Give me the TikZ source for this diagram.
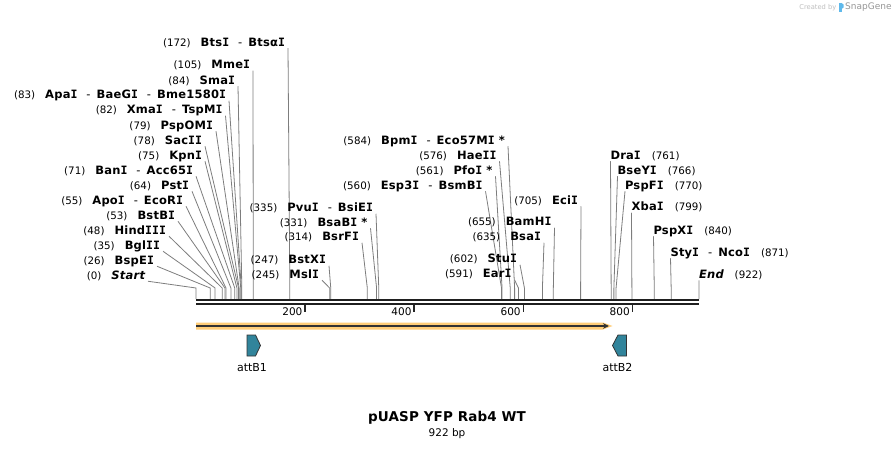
\documentclass[tikz,border=0pt]{standalone}
\usepackage{fontspec}
\usetikzlibrary{arrows.meta}
\setmainfont{DejaVu Sans}
\newfontfamily\enzfont{DejaVu Sans}[LetterSpace=2]
\newfontfamily\enzmono{DejaVu Sans Mono}
\newfontfamily\titfont{DejaVu Sans}[LetterSpace=1]
\definecolor{cutgray}{RGB}{125,125,125}
\definecolor{featglow}{RGB}{255,205,120}
\definecolor{featdark}{RGB}{50,50,50}
\definecolor{attcol}{RGB}{49,132,155}
\definecolor{sgtext}{RGB}{190,190,190}
\definecolor{sgname}{RGB}{150,150,150}
\definecolor{sgblue}{RGB}{95,185,235}
\newcommand{\Iser}{{\enzmono\bfseries I}}
\newcommand{\enzN}[1]{{\enzfont\bfseries #1}}
\newcommand{\enzNI}[1]{{\enzfont\bfseries\itshape #1}}
\newcommand{\enzNum}[1]{{\fontsize{10.3}{12}\selectfont #1}}
\newcommand{\enzHy}{\hspace{9pt}-\hspace{6pt}}
\newcommand{\enzGap}{\hspace{10pt}}
\newcommand{\enzGapR}{\hspace{11pt}}
\newcommand{\enzL}[5]{%
  \node[lab, anchor=east] (#1) at (#3,#2+1) {#5};
  \draw[cut] ([xshift=3pt]#1.south east) -- ([yshift=11pt]s#4) -- (s#4);
}
\newcommand{\enzR}[5]{%
  \node[lab, anchor=west] (#1) at (#3,#2+1) {#5};
  \draw[cut] ([xshift=0pt]#1.south west) -- ([yshift=11pt]s#4) -- (s#4);
}
\tikzset{
  lab/.style={inner sep=0pt, outer sep=0pt, font=\fontsize{11.5}{14}\selectfont, text height=8.5pt, text depth=2pt},
  cut/.style={draw=cutgray, line width=0.8pt},
  tick/.style={line width=1.6pt, draw=black!85},
  ticklab/.style={inner sep=0pt, font=\fontsize{10.5}{12}\selectfont, anchor=east},
  attshape/.style={fill=attcol, draw=black!80, line width=0.8pt, line join=miter},
  attlab/.style={inner sep=0pt, font=\fontsize{11}{13}\selectfont},
}
\begin{document}
\begin{tikzpicture}[x=1pt,y=-1pt]
\useasboundingbox (0,0) rectangle (896,449);
\foreach \p in {0,26,35,48,53,55,64,71,75,78,79,82,83,84,105,172,245,247,314,331,335,560,561,576,584,591,602,635,655,705,761,766,770,799,840,871,922}
  {\coordinate (s\p) at ({196+\p*0.545553},299);}
% left group
\enzL{e172}{42}{285}{172}{\enzNum{(172)}\enzGap\enzN{Bts\Iser}\enzHy\enzN{Btsα\Iser}}
\enzL{e105}{64.5}{250}{105}{\enzNum{(105)}\enzGap\enzN{Mme\Iser}}
\enzL{e84}{80}{235}{84}{\enzNum{(84)}\enzGap\enzN{Sma\Iser}}
\enzL{e83}{94.5}{226}{83}{\enzNum{(83)}\enzGap\enzN{Apa\Iser}\enzHy\enzN{BaeG\Iser}\enzHy\enzN{Bme1580\Iser}}
\enzL{e82}{109.5}{222.5}{82}{\enzNum{(82)}\enzGap\enzN{Xma\Iser}\enzHy\enzN{TspM\Iser}}
\enzL{e79}{125}{213}{79}{\enzNum{(79)}\enzGap\enzN{PspOM\Iser}}
\enzL{e78}{140}{202}{78}{\enzNum{(78)}\enzGap\enzN{Sac\Iser\Iser}}
\enzL{e75}{155}{202}{75}{\enzNum{(75)}\enzGap\enzN{Kpn\Iser}}
\enzL{e71}{170}{193}{71}{\enzNum{(71)}\enzGap\enzN{Ban\Iser}\enzHy\enzN{Acc65\Iser}}
\enzL{e64}{185}{189}{64}{\enzNum{(64)}\enzGap\enzN{Pst\Iser}}
\enzL{e55}{200}{183}{55}{\enzNum{(55)}\enzGap\enzN{Apo\Iser}\enzHy\enzN{EcoR\Iser}}
\enzL{e53}{215}{175}{53}{\enzNum{(53)}\enzGap\enzN{BstB\Iser}}
\enzL{e48}{230}{166}{48}{\enzNum{(48)}\enzGap\enzN{Hind\Iser\Iser\Iser}}
\enzL{e35}{245}{160}{35}{\enzNum{(35)}\enzGap\enzN{Bgl\Iser\Iser}}
\enzL{e26}{260}{154}{26}{\enzNum{(26)}\enzGap\enzN{BspE\Iser}}
\enzL{e0}{275}{145}{0}{\enzNum{(0)}\enzGap\enzNI{Start}}
% middle group
\enzL{e584}{140}{505}{584}{\enzNum{(584)}\enzGap\enzN{Bpm\Iser}\enzHy\enzN{Eco57M\Iser{} *}}
\enzL{e576}{155}{496.5}{576}{\enzNum{(576)}\enzGap\enzN{Hae\Iser\Iser}}
\enzL{e561}{170}{492.5}{561}{\enzNum{(561)}\enzGap\enzN{Pfo\Iser{} *}}
\enzL{e560}{185}{482.5}{560}{\enzNum{(560)}\enzGap\enzN{Esp3\Iser}\enzHy\enzN{BsmB\Iser}}
\enzL{e705}{200}{578}{705}{\enzNum{(705)}\enzGap\enzN{Eci\Iser}}
\enzL{e335}{207.5}{373}{335}{\enzNum{(335)}\enzGap\enzN{Pvu\Iser}\enzHy\enzN{BsiE\Iser}}
\enzL{e655}{221.5}{551.5}{655}{\enzNum{(655)}\enzGap\enzN{BamH\Iser}}
\enzL{e331}{222}{367.5}{331}{\enzNum{(331)}\enzGap\enzN{BsaB\Iser{} *}}
\enzL{e635}{236.5}{541}{635}{\enzNum{(635)}\enzGap\enzN{Bsa\Iser}}
\enzL{e314}{236.5}{359}{314}{\enzNum{(314)}\enzGap\enzN{BsrF\Iser}}
\enzL{e602}{258.5}{517}{602}{\enzNum{(602)}\enzGap\enzN{Stu\Iser}}
\enzL{e247}{259.5}{326}{247}{\enzNum{(247)}\enzGap\enzN{BstX\Iser}}
\enzL{e591}{273.5}{511.5}{591}{\enzNum{(591)}\enzGap\enzN{Ear\Iser}}
\enzL{e245}{274}{319}{245}{\enzNum{(245)}\enzGap\enzN{Msl\Iser}}
% right group
\enzR{e761}{155}{610.5}{761}{\enzN{Dra\Iser}\enzGapR\enzNum{(761)}}
\enzR{e766}{170}{617.5}{766}{\enzN{BseY\Iser}\enzGapR\enzNum{(766)}}
\enzR{e770}{185}{625}{770}{\enzN{PspF\Iser}\enzGapR\enzNum{(770)}}
\enzR{e799}{206.5}{631.5}{799}{\enzN{Xba\Iser}\enzGapR\enzNum{(799)}}
\enzR{e840}{230}{653.5}{840}{\enzN{PspX\Iser}\enzGapR\enzNum{(840)}}
\enzR{e871}{252}{670.5}{871}{\enzN{Sty\Iser}\enzHy\enzN{Nco\Iser}\enzGapR\enzNum{(871)}}
\enzR{e922}{274}{699}{922}{\enzNI{End}\enzGapR\enzNum{(922)}}
% backbone
\coordinate (bb0) at (196,300);
\coordinate (bb1) at (699,300);
\draw[line width=2pt, black!88] (bb0) -- (bb1);
\draw[line width=2.3pt, black!88] ([yshift=-4.2pt]bb0) -- ([yshift=-4.2pt]bb1);
% ticks
\foreach \t in {200,400,600,800}{
  \coordinate (t\t) at ({196+\t*0.545553},305);
  \draw[tick] (t\t) -- ++(0,7);
  \node[ticklab] (tl\t) at ([xshift=-2.5pt,yshift=-7pt]t\t) {\t};
}
% feature arrow
\coordinate (fa0) at (196,326);
\coordinate (fa1) at (609,326);
\fill[featglow] (196,322.5) -- (603,322.5) -- (612.5,326) -- (603,329.5) -- (196,329.5) -- cycle;
\draw[featdark, line width=1.6pt, -{Stealth[length=6pt,width=5.5pt]}] (fa0) -- (fa1);
% attB1
\draw[attshape] (247,335) -- (255.5,335) -- (260.5,345.5) -- (255.5,356) -- (247,356) -- cycle;
\node[attlab] (attB1) at (252,367.5) {attB1};
% attB2
\draw[attshape] (626.5,335) -- (618,335) -- (612.5,345.5) -- (618,356) -- (626.5,356) -- cycle;
\node[attlab] (attB2) at (617.5,367.5) {attB2};
% title
\node[inner sep=0pt, font=\fontsize{13.5}{15}\selectfont\titfont\bfseries] (title) at (447,418) {pUASP YFP Rab4 WT};
\node[inner sep=0pt, font=\fontsize{10.5}{12}\selectfont] (size) at (447,433.5) {922 bp};
% credit
\node[inner sep=0pt, anchor=east, text=sgtext, font=\fontsize{6.7}{8}\selectfont] (cred) at (836.5,7.5) {Created by};
\fill[sgblue] (839,3) rectangle (841.5,12.5);
\fill[sgblue] (841.5,3) -- (843.5,4.5) -- (843.5,7.5) -- (841.5,9) -- cycle;
\node[inner sep=0pt, anchor=west, text=sgname, font=\fontsize{9}{10}\selectfont] (sg) at (845,7.5) {SnapGene};
\end{tikzpicture}
\end{document}
